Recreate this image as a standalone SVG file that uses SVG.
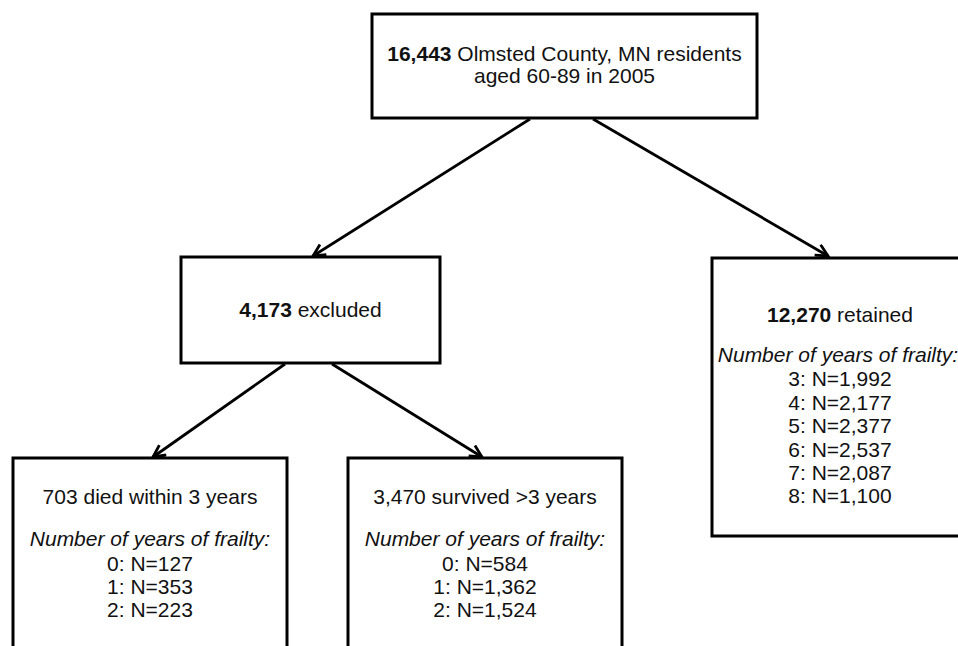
<svg xmlns="http://www.w3.org/2000/svg" width="958" height="646" viewBox="0 0 958 646">
<style>
  .box { fill: #ffffff; stroke: #000000; stroke-width: 3; }
  .t { font-family: "Liberation Sans", Arial, sans-serif; font-size: 21px; fill: #111111; text-anchor: middle; }
  .b { font-weight: bold; }
  .i { font-style: italic; }
  .conn { stroke: #000000; stroke-width: 2.8; fill: none; marker-end: url(#arrow); }
</style>
<defs>
  <marker id="arrow" markerUnits="userSpaceOnUse" markerWidth="20" markerHeight="20" refX="13" refY="7" orient="auto">
    <path d="M1,1 L13,7 L1,13" fill="none" stroke="#000000" stroke-width="2.8" stroke-linejoin="miter"/>
  </marker>
</defs>
<rect width="958" height="646" fill="#ffffff"/>
<g id="connectors">
  <line class="conn" x1="530" y1="119" x2="313" y2="256"/>
  <line class="conn" x1="593" y1="119" x2="828" y2="256"/>
  <line class="conn" x1="285" y1="364" x2="153" y2="457"/>
  <line class="conn" x1="332" y1="364" x2="482" y2="457"/>
</g>
<g id="node-total">
  <rect class="box" x="372" y="14" width="385" height="104"/>
  <text class="t" x="564.5" y="61"><tspan class="b">16,443</tspan> Olmsted County, MN residents</text>
  <text class="t" x="564.5" y="83">aged 60-89 in 2005</text>
</g>
<g id="node-excluded">
  <rect class="box" x="181" y="257" width="259" height="106"/>
  <text class="t" x="310.5" y="317"><tspan class="b">4,173</tspan> excluded</text>
</g>
<g id="node-retained">
  <rect class="box" x="712" y="258" width="258" height="278"/>
  <text class="t" x="840" y="322"><tspan class="b">12,270</tspan> retained</text>
  <text class="t i" x="838" y="362">Number of years of frailty:</text>
  <text class="t" x="840" y="386">3: N=1,992</text>
  <text class="t" x="840" y="410">4: N=2,177</text>
  <text class="t" x="840" y="433">5: N=2,377</text>
  <text class="t" x="840" y="457">6: N=2,537</text>
  <text class="t" x="840" y="480">7: N=2,087</text>
  <text class="t" x="840" y="503">8: N=1,100</text>
</g>
<g id="node-died">
  <rect class="box" x="13" y="458" width="274" height="200"/>
  <text class="t" x="150" y="504">703 died within 3 years</text>
  <text class="t i" x="150" y="546">Number of years of frailty:</text>
  <text class="t" x="150" y="571">0: N=127</text>
  <text class="t" x="150" y="594">1: N=353</text>
  <text class="t" x="150" y="617">2: N=223</text>
</g>
<g id="node-survived">
  <rect class="box" x="348" y="458" width="274" height="200"/>
  <text class="t" x="485" y="504">3,470 survived &gt;3 years</text>
  <text class="t i" x="485" y="546">Number of years of frailty:</text>
  <text class="t" x="485" y="571">0: N=584</text>
  <text class="t" x="485" y="594">1: N=1,362</text>
  <text class="t" x="485" y="617">2: N=1,524</text>
</g>
</svg>
